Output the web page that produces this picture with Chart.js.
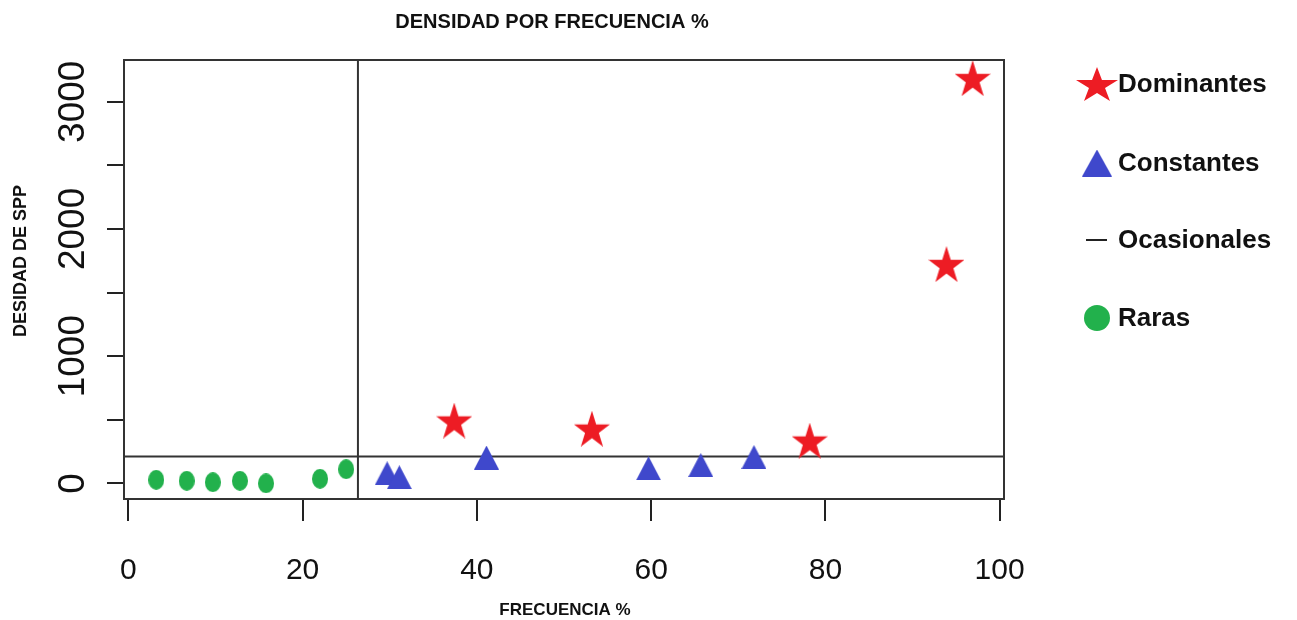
<!DOCTYPE html>
<html>
<head>
<meta charset="utf-8">
<script src="https://cdn.jsdelivr.net/npm/chart.js@4.4.0/dist/chart.umd.min.js"></script>
<style>
  html, body { margin: 0; padding: 0; background: #fff; }
</style>
</head>
<body>
<canvas id="chart" width="1297" height="620"></canvas>
<script>
// axis ticks
const xTicks = [0, 20, 40, 60, 80, 100];
const yTicks = [0, 500, 1000, 1500, 2000, 2500, 3000];
const yTickLabels = ['0', '', '1000', '', '2000', '', '3000'];

// frecuencia % / densidad
const dominantesX = [37.4, 53.2, 78.2, 93.9, 96.9];
const dominantesY = [494, 430, 336, 1724, 3186];
const constantesX = [29.7, 31.1, 41.1, 59.7, 65.7, 71.8];
const constantesY = [79, 48, 203, 118, 144, 207];
const rarasX = [3.2, 6.7, 9.7, 12.8, 15.8, 22.0, 25.0];
const rarasY = [28, 20, 9, 20, 0, 36, 111];

// cut lines
const cutFrecuencia = 26.35;
const cutDensidad = 212;
const xRange = [-0.5, 100.5];
const yRange = [-123, 3328];

const RED = '#ed1c24', BLUE = '#3f48cc', GREEN = '#22b14c';
const FONT = '"Liberation Sans", Arial, sans-serif';

function marker(w, h, color, shape) {
  const c = document.createElement('canvas');
  c.width = w; c.height = h;
  const g = c.getContext('2d');
  g.fillStyle = color;
  g.beginPath();
  if (shape === 'star') {
    const sx = w / 1.902, sy = h / 1.809;
    for (let i = 0; i < 10; i++) {
      const a = -Math.PI / 2 + i * Math.PI / 5;
      const r = i % 2 ? 0.382 : 1;
      g.lineTo(w / 2 + Math.cos(a) * r * sx, sy + Math.sin(a) * r * sy);
    }
  } else if (shape === 'triangle') {
    g.moveTo(w / 2, 0); g.lineTo(w, h); g.lineTo(0, h);
  } else {
    g.ellipse(w / 2, h / 2, w / 2, h / 2, 0, 0, Math.PI * 2);
  }
  g.closePath();
  g.fill();
  return c;
}

const starImg = marker(36, 36, RED, 'star');
const triImg = marker(25, 24, BLUE, 'triangle');
const dotImg = marker(16, 20, GREEN, 'circle');

const legendItems = [
  { label: 'Dominantes', img: marker(42, 34, RED, 'star'), y: 84 },
  { label: 'Constantes', img: marker(30, 27, BLUE, 'triangle'), y: 163 },
  { label: 'Ocasionales', img: null, y: 240 },
  { label: 'Raras', img: marker(26, 26, GREEN, 'circle'), y: 318 }
];

const toPoints = (xs, ys) => xs.map((x, i) => ({ x, y: ys[i] }));

const decor = {
  id: 'decor',
  afterDraw(chart) {
    const { ctx, chartArea: a } = chart;
    ctx.save();
    ctx.strokeStyle = '#333';
    ctx.lineWidth = 2;
    ctx.strokeRect(a.left, a.top, a.right - a.left, a.bottom - a.top);

    ctx.fillStyle = '#111';
    ctx.textAlign = 'center';
    ctx.textBaseline = 'middle';
    ctx.font = 'bold 20px ' + FONT;
    ctx.fillText('DENSIDAD POR FRECUENCIA %', 552, 22);
    ctx.font = 'bold 17px ' + FONT;
    ctx.fillText('FRECUENCIA %', 565, 610);
    ctx.save();
    ctx.translate(21, 261);
    ctx.rotate(-Math.PI / 2);
    ctx.font = 'bold 18px ' + FONT;
    ctx.fillText('DESIDAD DE SPP', 0, 0);
    ctx.restore();

    // legend
    ctx.textAlign = 'left';
    ctx.font = 'bold 26px ' + FONT;
    legendItems.forEach(it => {
      if (it.img) {
        ctx.drawImage(it.img, 1097 - it.img.width / 2, it.y - it.img.height / 2);
      } else {
        ctx.fillStyle = '#222';
        ctx.fillRect(1086, it.y - 1, 21, 2);
      }
      ctx.fillStyle = '#111';
      ctx.fillText(it.label, 1118, it.y + 1);
    });
    ctx.restore();
  }
};

const refLine = pts => ({
  data: pts, showLine: true, pointRadius: 0, borderColor: '#333', borderWidth: 2, order: 5
});

new Chart(document.getElementById('chart'), {
  type: 'scatter',
  data: {
    datasets: [
      refLine([{ x: cutFrecuencia, y: yRange[0] }, { x: cutFrecuencia, y: yRange[1] }]),
      refLine([{ x: xRange[0], y: cutDensidad }, { x: xRange[1], y: cutDensidad }]),
      { label: 'Raras', data: toPoints(rarasX, rarasY), pointStyle: dotImg, pointRadius: 8 },
      { label: 'Constantes', data: toPoints(constantesX, constantesY), pointStyle: triImg, pointRadius: 12 },
      { label: 'Dominantes', data: toPoints(dominantesX, dominantesY), pointStyle: starImg, pointRadius: 16 }
    ]
  },
  options: {
    responsive: false,
    animation: false,
    events: [],
    layout: { padding: { top: 60, right: 293, bottom: 0, left: 0 } },
    plugins: { legend: { display: false }, title: { display: false }, tooltip: { enabled: false } },
    scales: {
      x: {
        type: 'linear', min: xRange[0], max: xRange[1],
        afterBuildTicks: s => { s.ticks = xTicks.map(v => ({ value: v })); },
        afterFit: s => { s.height = 121; },
        border: { display: false },
        grid: { drawOnChartArea: false, tickLength: 22, color: '#222', lineWidth: 2 },
        ticks: {
          autoSkip: false, maxRotation: 0, padding: 32, color: '#111',
          font: { size: 30, family: FONT }
        }
      },
      y: {
        type: 'linear', min: yRange[0], max: yRange[1],
        afterBuildTicks: s => { s.ticks = yTicks.map(v => ({ value: v })); },
        afterFit: s => { s.width = 124; },
        border: { display: false },
        grid: { drawOnChartArea: false, tickLength: 17, color: '#222', lineWidth: 2 },
        ticks: {
          autoSkip: false, minRotation: 90, maxRotation: 90, crossAlign: 'center', padding: -8,
          color: '#111', font: { size: 37, family: FONT },
          callback: (v, i) => yTickLabels[i]
        }
      }
    }
  },
  plugins: [decor]
});
</script>
</body>
</html>
